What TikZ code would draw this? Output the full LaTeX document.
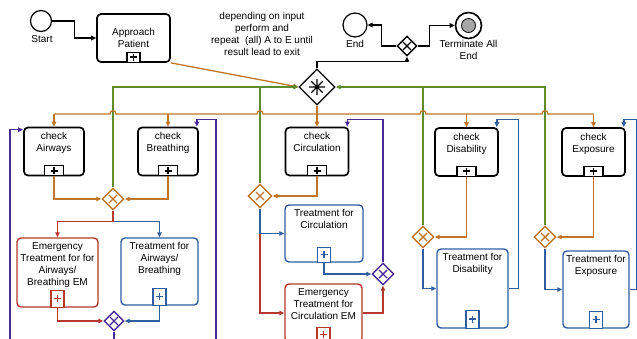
\documentclass[tikz,border=0pt]{standalone}
\usepackage{fontspec}
\setmainfont{Liberation Sans}
\usetikzlibrary{arrows.meta,shapes.geometric}
\definecolor{cor}{HTML}{C0762A}
\definecolor{cgr}{HTML}{5C8A2C}
\definecolor{cre}{HTML}{B5382E}
\definecolor{cbl}{HTML}{2F5DA0}
\definecolor{cpu}{HTML}{4A2C98}
\begin{document}
\begin{tikzpicture}[x=1pt,y=-1pt,
  every node/.style={font=\fontsize{10}{12}\selectfont},
  txt/.style={inner sep=0pt, anchor=north, align=center},
  task/.style={draw=black, line width=1.7pt, rounded corners=4pt, inner sep=0pt, fill=white},
  ctask/.style={draw=#1, line width=1.4pt, rounded corners=4pt, inner sep=0pt, fill=white},
  mk/.style n args={3}{draw=#1, line width=1.2pt, fill=white, minimum width=#2, minimum height=#3, inner sep=0pt, anchor=south,
    path picture={\draw[#1, line width=1.6pt] ([xshift=-3.5pt]path picture bounding box.center) -- ([xshift=3.5pt]path picture bounding box.center) ([yshift=-3.5pt]path picture bounding box.center) -- ([yshift=3.5pt]path picture bounding box.center);}},
  gw/.style={diamond, draw=#1, line width=1.4pt, fill=white, minimum width=22pt, minimum height=22pt, inner sep=0pt,
    path picture={\draw[#1, line width=1.4pt] ([shift={(-4pt,-4pt)}]path picture bounding box.center) -- ([shift={(4pt,4pt)}]path picture bounding box.center) ([shift={(-4pt,4pt)}]path picture bounding box.center) -- ([shift={(4pt,-4pt)}]path picture bounding box.center);}},
  fl/.style={line width=1.3pt, draw=#1, -{Triangle[length=5pt,width=4.5pt]}},
  ln/.style={line width=1.3pt, draw=#1},
]
\useasboundingbox (0,0) rectangle (637,338);
\clip (0,0) rectangle (637,338);

% ---- top area ----
\node[circle, draw, line width=1.2pt, minimum size=21pt, inner sep=0pt] (start) at (41,21) {};
\node[txt] (tstart) at (42,35.5) {Start};
\node[task, minimum width=73pt, minimum height=48pt] (ap) at (133.5,38) {};
\node[txt] (tap) at (133.5,28.5) {Approach\\Patient};
\node[mk={black}{13pt}{10pt}] (apm) at (ap.south) {};
\node[txt] (note) at (262,12.4) {depending on input\\perform and\\repeat \ (all) A to E until\\result lead to exit};

\node[circle, draw, line width=1.2pt, minimum size=24pt, inner sep=0pt] (end) at (355,25) {};
\node[txt] (tend) at (355,40.5) {End};
\node[gw=black, minimum width=20pt, minimum height=20pt] (gX) at (407,46) {};
\node[circle, draw, line width=1.6pt, minimum size=26pt, inner sep=0pt] (term) at (468.5,25.5) {};
\node[circle, draw, line width=0.8pt, fill=black!35, minimum size=14pt, inner sep=0pt] (termin) at (468.5,25.5) {};
\node[txt] (tterm) at (468.5,40.5) {Terminate All\\End};

\node[diamond, draw, line width=1.3pt, fill=white, minimum width=36pt, minimum height=36pt, inner sep=0pt,
  path picture={\draw[line width=1.2pt]
   ([xshift=-8pt]path picture bounding box.center) -- ([xshift=8pt]path picture bounding box.center)
   ([yshift=-8pt]path picture bounding box.center) -- ([yshift=8pt]path picture bounding box.center)
   ([shift={(-5.7pt,-5.7pt)}]path picture bounding box.center) -- ([shift={(5.7pt,5.7pt)}]path picture bounding box.center)
   ([shift={(-5.7pt,5.7pt)}]path picture bounding box.center) -- ([shift={(5.7pt,-5.7pt)}]path picture bounding box.center);}] (cg) at (317,87) {};

% ---- check tasks ----
\node[task, minimum width=60pt, minimum height=48pt] (ca) at (54,151.5) {};
\node[txt] (tca) at (54,132.5) {check\\Airways};
\node[mk={black}{19pt}{10pt}] (cam) at (ca.south) {};
\node[task, minimum width=60pt, minimum height=48pt] (cb) at (168,151.5) {};
\node[txt] (tcb) at (168,132.5) {check\\Breathing};
\node[mk={black}{19pt}{10pt}] (cbm) at (cb.south) {};
\node[task, minimum width=63pt, minimum height=48pt] (cc) at (317,151.5) {};
\node[txt] (tcc) at (317,132.5) {check\\Circulation};
\node[mk={black}{19pt}{10pt}] (ccm) at (cc.south) {};
\node[task, minimum width=63pt, minimum height=48pt] (cd) at (466.5,152) {};
\node[txt] (tcd) at (466.5,133) {check\\Disability};
\node[mk={black}{19pt}{10pt}] (cdm) at (cd.south) {};
\node[task, minimum width=63pt, minimum height=48pt] (ce) at (593.5,152) {};
\node[txt] (tce) at (593.5,133) {check\\Exposure};
\node[mk={black}{19pt}{10pt}] (cem) at (ce.south) {};

% ---- treatment tasks ----
\node[ctask=cre, minimum width=81pt, minimum height=69pt] (rAB) at (57.5,272.5) {};
\node[txt] (trAB) at (57.5,242) {Emergency\\Treatment for for\\Airways/\\Breathing EM};
\node[mk={cre}{13pt}{17pt}] (rABm) at (rAB.south) {};
\node[ctask=cbl, minimum width=77pt, minimum height=67pt] (bAB) at (159.5,271.5) {};
\node[txt] (tbAB) at (159.5,242) {Treatment for\\Airways/\\Breathing};
\node[mk={cbl}{13pt}{17pt}] (bABm) at (bAB.south) {};
\node[ctask=cbl, minimum width=78pt, minimum height=57pt] (bC) at (324,233.5) {};
\node[txt] (tbC) at (324,208.7) {Treatment for\\Circulation};
\node[mk={cbl}{13pt}{15pt}] (bCm) at (bC.south) {};
\node[ctask=cre, minimum width=77pt, minimum height=58pt] (rC) at (323.5,313) {};
\node[txt] (trC) at (323.5,288.7) {Emergency\\Treatment for\\Circulation EM};
\node[mk={cre}{13pt}{15pt}] (rCm) at (rC.south) {};
\node[ctask=cbl, minimum width=71pt, minimum height=79pt] (bD) at (472.5,288.5) {};
\node[txt] (tbD) at (472.5,253) {Treatment for\\Disability};
\node[mk={cbl}{13pt}{18pt}] (bDm) at (bD.south) {};
\node[ctask=cbl, minimum width=66pt, minimum height=77pt] (bE) at (596,289.5) {};
\node[txt] (tbE) at (596,254.7) {Treatment for\\Exposure};
\node[mk={cbl}{13pt}{17pt}] (bEm) at (bE.south) {};

% ---- gateways ----
\node[gw=cor] (gAB) at (113,199) {};
\node[gw=cpu, minimum width=20pt, minimum height=20pt] (gP) at (114,321) {};
\node[gw=cor, minimum width=24pt, minimum height=24pt] (gC) at (260,196) {};
\node[gw=cpu] (gPC) at (383,274) {};
\node[gw=cor] (gD) at (423,237) {};
\node[gw=cor] (gE) at (545,237) {};

\coordinate (oj) at (317,114);
\coordinate (bot) at (0,345);
\coordinate (pl) at (10,345);
\coordinate (pr) at (216,345);

% ---- top connectors ----
\draw[fl=black, line width=1.1pt] (start.east) -- ++(22,0) |- (ap.west);
\draw[fl=black, line width=1.1pt] (gX.west) -- ++(-15,0) |- (end.east);
\draw[fl=black, line width=1.1pt] (gX.east) -- ++(12,0) |- (term.west);
\draw[fl=black, line width=1.1pt] (cg.north) -- ++(0,-7) -| (gX.south);
\draw[fl=cor] (ap.south east) -- (cg.west);

% ---- green return flows ----
\draw[fl=cgr] (gAB.north) |- (cg.west);
\draw[ln=cgr] (gC.north) -- (gC.north |- cg.west);
\draw[fl=cgr] (gE.north) |- (cg.east);
\draw[ln=cgr] (gD.north) -- (gD.north |- cg.east);

% ---- orange distribution bus with hops ----
\draw[ln=cor] (ca.north |- oj) -- (110,114) .. controls (110,109.5) and (116,109.5) .. (116,114)
  -- (257,114) .. controls (257,109.5) and (263,109.5) .. (263,114)
  -- (420,114) .. controls (420,109.5) and (426,109.5) .. (426,114)
  -- (542,114) .. controls (542,109.5) and (548,109.5) .. (548,114)
  -- (ce.north |- oj);
\foreach \n in {ca,cb,cd,ce} \draw[fl=cor] (\n.north |- oj) -- (\n.north);
\draw[fl=cor] (cg.south) -- (cc.north);

% ---- airways / breathing ----
\draw[fl=cor] (ca.south) |- (gAB.west);
\draw[fl=cor] (cb.south) |- (gAB.east);
\draw[fl=cbl] ([yshift=-11pt]gAB.south) -| (bAB.north);
\draw[fl=cre] (gAB.south) -- ++(0,11) -| (rAB.north);
\draw[fl=cre] (rAB.south) |- (gP.west);
\draw[fl=cbl] (bAB.south) |- (gP.east);
\draw[ln=cpu] (gP.south) -- (gP.south |- bot);
\draw[fl=cpu] (pl) |- ([yshift=-3pt]ca.north west);
\draw[fl=cpu] (pr) |- ([shift={(-2pt,7pt)}]cb.north east) -- ([xshift=-2pt]cb.north east);

% ---- circulation ----
\draw[fl=cor] (cc.south) |- (gC.east);
\draw[fl=cre] (gC.south) |- (rC.west);
\draw[fl=cbl] (gC.south) |- (bC.west);
\draw[fl=cbl] (bC.south) |- (gPC.west);
\draw[fl=cre] (rC.east) -| (gPC.south);
\draw[fl=cpu] (gPC.north) |- ([shift={(-2pt,7pt)}]cc.north east) -- ([xshift=-2pt]cc.north east);

% ---- disability ----
\draw[fl=cor] (cd.south) |- (gD.east);
\draw[fl=cbl] (gD.south) |- (bD.west);
\draw[fl=cbl] (bD.east) -- ++(10,0) |- ([shift={(-2pt,8pt)}]cd.north east) -- ([xshift=-2pt]cd.north east);

% ---- exposure ----
\draw[fl=cor] (ce.south) |- (gE.east);
\draw[fl=cbl] (gE.south) |- (bE.west);
\draw[fl=cbl] (bE.east) -- ++(7,0) |- ([shift={(-2pt,8pt)}]ce.north east) -- ([xshift=-2pt]ce.north east);
\end{tikzpicture}
\end{document}
